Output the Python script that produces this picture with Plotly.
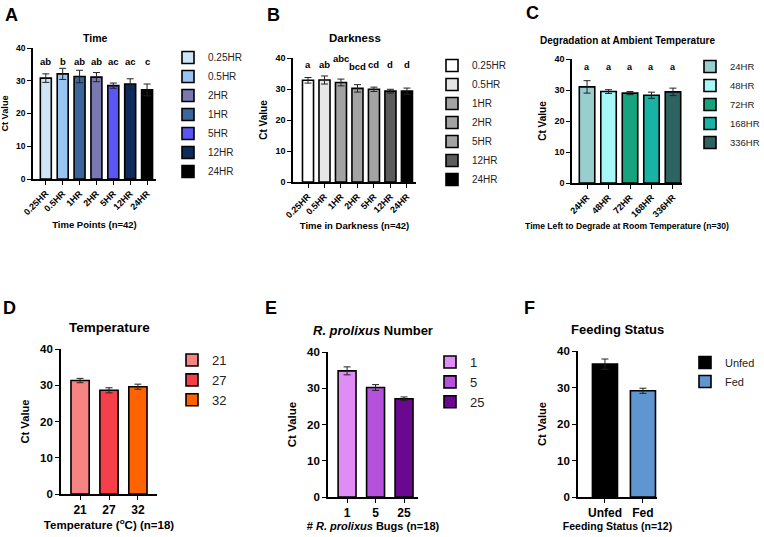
import plotly.graph_objects as go

FONT = "Liberation Sans"
W, H = 764, 537

# ---------------- data ----------------
A_CATS = ["0.25HR", "0.5HR", "1HR", "2HR", "5HR", "12HR", "24HR"]
A_MEANS = [30.8, 32.1, 31.3, 31.1, 28.5, 29.0, 27.2]
A_ERRS = [1.3, 1.7, 1.9, 1.4, 0.8, 1.6, 1.8]
A_LETTERS = ["ab", "b", "ab", "ab", "ac", "ac", "c"]
A_COLORS = ["#d0e4f8", "#99c5f3", "#3a6699", "#7a78b0", "#5a55f3", "#0d2b5c", "#000000"]
A_LEGEND_ORDER = ["0.25HR", "0.5HR", "2HR", "1HR", "5HR", "12HR", "24HR"]

B_CATS = ["0.25HR", "0.5HR", "1HR", "2HR", "5HR", "12HR", "24HR"]
B_MEANS = [32.8, 32.9, 32.1, 30.2, 29.9, 29.3, 29.3]
B_ERRS = [0.9, 1.3, 1.1, 1.2, 0.7, 0.6, 1.0]
B_LETTERS = ["a", "ab", "abc", "bcd", "cd", "d", "d"]
B_COLORS = ["#ffffff", "#e6e6e6", "#a3a3a3", "#a3a3a3", "#a3a3a3", "#5c5c5c", "#000000"]

C_CATS = ["24HR", "48HR", "72HR", "168HR", "336HR"]
C_MEANS = [31.0, 29.5, 29.0, 28.3, 29.4]
C_ERRS = [2.0, 0.6, 0.5, 1.0, 1.2]
C_LETTERS = ["a", "a", "a", "a", "a"]
C_COLORS = ["#98cece", "#a8f7f7", "#17a37d", "#19b3a6", "#2d6461"]

D_CATS = ["21", "27", "32"]
D_MEANS = [31.3, 28.6, 29.6]
D_ERRS = [0.6, 0.7, 0.7]
D_LETTERS = ["a", "b", "b"]
D_COLORS = ["#f78383", "#f5404a", "#ff6200"]

E_CATS = ["1", "5", "25"]
E_MEANS = [34.8, 30.2, 27.1]
E_ERRS = [1.1, 0.8, 0.5]
E_LETTERS = ["a", "b", "c"]
E_COLORS = ["#e08cf5", "#b551db", "#6b0890"]

F_CATS = ["Unfed", "Fed"]
F_MEANS = [36.4, 29.1]
F_ERRS = [1.4, 0.7]
F_LETTERS = ["a", "b"]
F_COLORS = ["#000000", "#6096cf"]

TITLES = ["Time", "Darkness", "Degradation at Ambient Temperature",
          "Temperature", "<i>R. prolixus</i> Number", "Feeding Status"]
XTITLES = ["Time Points (n=42)", "Time in Darkness (n=42)",
           "Time Left to Degrade at Room Temperature (n=30)",
           "Temperature (<sup>o</sup>C) (n=18)",
           "# <i>R. prolixus</i> Bugs (n=18)", "Feeding Status (n=12)"]
PANEL_LABELS = ["A", "B", "C", "D", "E", "F"]


def px(x):
    return x / W


def py(y):
    return 1 - y / H


fig = go.Figure()

panels = [
    dict(cats=A_CATS, means=A_MEANS, errs=A_ERRS, letters=A_LETTERS, colors=A_COLORS,
         order=A_LEGEND_ORDER, xd=(33, 156), yd=(48, 179), rng=(-0.76, 6.53), bw=0.65,
         letter_y=36, ytick=8.5, xtick=9, ticka=-45, xt=9.5, yt=9.2, tt=10.5, lf=10, letf=9.5,
         leg=(168, 43), title_y=38, lab=(11, 15), ystand=6, xstand=5),
    dict(cats=B_CATS, means=B_MEANS, errs=B_ERRS, letters=B_LETTERS, colors=B_COLORS,
         order=B_CATS, xd=(293, 416), yd=(58, 182), rng=(-0.91, 6.55), bw=0.67,
         letter_y=38, ytick=9, xtick=9, ticka=-45, xt=9.5, yt=10, tt=11.5, lf=10, letf=9.5,
         leg=(432, 51), title_y=38, lab=(273, 15), ystand=6, xstand=2),
    dict(cats=C_CATS, means=C_MEANS, errs=C_ERRS, letters=C_LETTERS, colors=C_COLORS,
         order=C_CATS, xd=(572, 682), yd=(59, 183), rng=(-0.7, 4.42), bw=0.72,
         letter_y=37.4, ytick=9, xtick=9, ticka=-45, xt=8.6, yt=10, tt=10, lf=9.5, letf=9,
         leg=(690, 52), title_y=40, lab=(532, 13), ystand=6, xstand=4),
    dict(cats=D_CATS, means=D_MEANS, errs=D_ERRS, letters=D_LETTERS, colors=D_COLORS,
         order=D_CATS, xd=(61, 157), yd=(349, 494), rng=(-0.66, 2.66), bw=0.63,
         letter_y=36.1, ytick=11.5, xtick=12, ticka=0, xt=11.5, yt=11.2, tt=13.5, lf=13, letf=9.5,
         leg=(172, 345), title_y=327, lab=(9, 308), ystand=8, xstand=2),
    dict(cats=E_CATS, means=E_MEANS, errs=E_ERRS, letters=E_LETTERS, colors=E_COLORS,
         order=E_CATS, xd=(328, 418), yd=(352, 497), rng=(-0.67, 2.49), bw=0.63,
         letter_y=40.8, ytick=11.5, xtick=12, ticka=0, xt=11, yt=11.5, tt=13, lf=13, letf=9.5,
         leg=(430, 347), title_y=330, lab=(271, 308), ystand=8, xstand=2),
    dict(cats=F_CATS, means=F_MEANS, errs=F_ERRS, letters=F_LETTERS, colors=F_COLORS,
         order=F_CATS, xd=(578, 657), yd=(351, 497), rng=(-0.71, 1.37), bw=0.66,
         letter_y=40.5, ytick=11.5, xtick=12, ticka=0, xt=10.5, yt=11.2, tt=13, lf=11, letf=9.5,
         leg=(685, 348), title_y=329, lab=(529, 308), ystand=8, xstand=2),
]

annotations = []
for i, p in enumerate(panels):
    n = i + 1
    xa = "x" if n == 1 else f"x{n}"
    ya = "y" if n == 1 else f"y{n}"
    lg = "legend" if n == 1 else f"legend{n}"
    letters = p["letters"]
    for j, cat in enumerate(p["cats"]):
        fig.add_trace(go.Bar(
            x=[cat], y=[p["means"][j]], name=cat, width=p["bw"],
            marker=dict(color=p["colors"][j], line=dict(color="#000000", width=1.6)),
            error_y=dict(type="data", array=[p["errs"][j]], symmetric=True,
                         color="#222222", thickness=1, width=3.5),
            xaxis=xa, yaxis=ya, legend=lg,
            legendrank=p["order"].index(cat) + 1,
            showlegend=True,
        ))
        # stagger long neighbouring significance labels so they do not collide
        shift = 0
        if len(letters[j]) >= 3 and j + 1 < len(letters) and len(letters[j + 1]) >= 3:
            shift = 6
        elif len(letters[j]) >= 3 and j > 0 and len(letters[j - 1]) >= 3:
            shift = -2
        annotations.append(dict(
            x=cat, y=p["letter_y"], xref=xa, yref=ya, text=f"<b>{letters[j]}</b>",
            showarrow=False, font=dict(family=FONT, size=p["letf"], color="#000000"),
            xanchor="center", yanchor="middle", yshift=shift))

    xkey = "xaxis" if n == 1 else f"xaxis{n}"
    ykey = "yaxis" if n == 1 else f"yaxis{n}"
    fig.update_layout(**{
        xkey: dict(
            domain=[px(p["xd"][0]), px(p["xd"][1])], anchor=ya,
            type="category", categoryorder="array", categoryarray=p["cats"],
            range=list(p["rng"]), showline=True, linecolor="#000000", linewidth=1.6,
            ticks="outside", ticklen=4, tickwidth=1.4, tickcolor="#000000",
            tickangle=p["ticka"], showgrid=False, zeroline=False,
            tickfont=dict(family=FONT, size=p["xtick"], color="#000000", weight="bold"),
            title=dict(text=XTITLES[i], standoff=p["xstand"],
                       font=dict(family=FONT, size=p["xt"], color="#000000", weight="bold")),
        ),
        ykey: dict(
            domain=[py(p["yd"][1]), py(p["yd"][0])], anchor=xa,
            range=[0, 40], dtick=10, showline=True, linecolor="#000000", linewidth=1.6,
            ticks="outside", ticklen=4, tickwidth=1.4, tickcolor="#000000",
            showgrid=False, zeroline=False,
            tickfont=dict(family=FONT, size=p["ytick"], color="#000000", weight="bold"),
            title=dict(text="Ct Value", standoff=p["ystand"],
                       font=dict(family=FONT, size=p["yt"], color="#000000", weight="bold")),
        ),
        lg: dict(
            x=px(p["leg"][0]), y=py(p["leg"][1]), xanchor="left", yanchor="top",
            bgcolor="rgba(0,0,0,0)", borderwidth=0, traceorder="normal",
            font=dict(family=FONT, size=p["lf"], color="#222222"),
            itemclick=False, itemdoubleclick=False,
        ),
    })
    annotations.append(dict(
        x=px((p["xd"][0] + p["xd"][1]) / 2), y=py(p["title_y"]), xref="paper", yref="paper",
        text=f"<b>{TITLES[i]}</b>", showarrow=False, xanchor="center", yanchor="middle",
        font=dict(family=FONT, size=p["tt"], color="#000000")))
    annotations.append(dict(
        x=px(p["lab"][0]), y=py(p["lab"][1]), xref="paper", yref="paper",
        text=f"<b>{PANEL_LABELS[i]}</b>", showarrow=False, xanchor="center", yanchor="middle",
        font=dict(family=FONT, size=18, color="#000000")))

fig.update_layout(
    width=W, height=H, margin=dict(l=0, r=0, t=0, b=0, autoexpand=False),
    paper_bgcolor="#ffffff", plot_bgcolor="#ffffff",
    barmode="overlay", showlegend=True, annotations=annotations,
    font=dict(family=FONT, color="#000000"),
)

fig.write_html("out.html", config={"displayModeBar": False},
               post_script="document.body.style.margin='0px';")
